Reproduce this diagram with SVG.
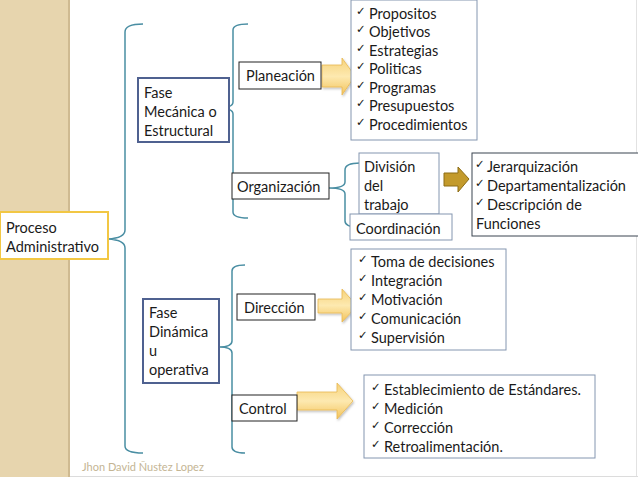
<svg xmlns="http://www.w3.org/2000/svg" width="638" height="479" viewBox="0 0 638 479">
<defs>
<style>
.t{font-family:Lato,"Open Sans","DejaVu Sans",sans-serif;font-size:14.5px;fill:#1a1a1a}
.ck{font-family:"DejaVu Sans",sans-serif;font-size:11.5px;fill:#1a1a1a}
.brace{fill:none;stroke:#4a8ea3;stroke-width:1.5}
.fase{fill:#fff;stroke:#4f6190;stroke-width:2}
.lbl{fill:#fff;stroke:#222;stroke-width:1}
.list{fill:#fff;stroke:#8496b0;stroke-width:1}
.arr{fill:url(#ag);stroke:#e8b850;stroke-width:0.8;filter:url(#sh)}
</style>
<linearGradient id="ag" x1="0" y1="0" x2="0" y2="1">
<stop offset="0" stop-color="#f6d27a"/>
<stop offset="0.5" stop-color="#fde9b0"/>
<stop offset="1" stop-color="#f3c35a"/>
</linearGradient>
<filter id="sh" x="-20%" y="-20%" width="150%" height="160%">
<feDropShadow dx="1" dy="1.5" stdDeviation="1.2" flood-color="#000" flood-opacity="0.25"/>
</filter>
</defs>
<rect width="638" height="479" fill="#fff"/>
<rect x="0" y="0" width="70" height="477" fill="#e7d5ae"/>
<line x1="69" y1="0" x2="69" y2="477" stroke="#cfba91" stroke-width="2"/>
<line x1="636.5" y1="0" x2="636.5" y2="476" stroke="#e2e2e2" stroke-width="1"/>
<line x1="70" y1="476.5" x2="638" y2="476.5" stroke="#dcdcdc" stroke-width="1"/>

<g id="connectors">
<path class="brace" d="M143,24 Q125,24 125,32 L125,230 Q125,238 108,239 Q125,240 125,248 L125,446 Q125,453 143,453"/>
<path class="brace" d="M248,24 Q233,24 233,30 L233,102 Q233,108 218,108 Q233,108 233,114 L233,212 Q233,218 248,218"/>
<path class="brace" d="M245,265 Q232,265 232,271 L232,341 Q232,347 219,347 Q232,347 232,353 L232,447 Q232,453 245,453"/>
<path class="brace" d="M360,163 Q345,163 345,170 L345,182 Q345,188 329,188 Q345,188 345,194 L345,221 Q345,227 358,227"/>
<polygon class="arr" points="322,65 342,65 342,58 355,76 342,95 342,87 322,87"/>
<polygon class="arr" points="318,299 342,299 342,289 357,306 342,322 342,313 318,313"/>
<polygon class="arr" points="297,392 337,392 337,383 353,401 337,419 337,410 297,410"/>
<polygon points="444,173 458,173 458,167 469,179 458,192 458,186 444,186" fill="#c39a2b" stroke="#8d6d14" stroke-width="1"/>
</g>

<g id="proceso">
<rect x="0" y="212" width="108" height="47" fill="#fff" stroke="#f2c744" stroke-width="2"/>
<text class="t" x="6" y="233">Proceso</text>
<text class="t" x="6" y="252">Administrativo</text>
</g>

<g id="fase-mecanica">
<rect class="fase" x="138" y="78" width="91" height="64"/>
<text class="t" x="144" y="98">Fase</text>
<text class="t" x="144" y="117">Mecánica o</text>
<text class="t" x="144" y="136">Estructural</text>
</g>

<g id="fase-dinamica">
<rect class="fase" x="143" y="299" width="76" height="84"/>
<text class="t" x="149" y="318">Fase</text>
<text class="t" x="149" y="337">Dinámica</text>
<text class="t" x="149" y="356">u</text>
<text class="t" x="149" y="375">operativa</text>
</g>

<g id="planeacion">
<rect class="lbl" x="239" y="62" width="82" height="27"/>
<text class="t" x="246" y="81">Planeación</text>
</g>

<g id="organizacion">
<rect class="lbl" x="232" y="173" width="97" height="26"/>
<text class="t" x="237" y="192">Organización</text>
</g>

<g id="direccion">
<rect class="lbl" x="237" y="294" width="78" height="26"/>
<text class="t" x="244" y="313">Dirección</text>
</g>

<g id="control">
<rect class="lbl" x="232" y="395" width="65" height="26"/>
<text class="t" x="239" y="414">Control</text>
</g>

<g id="planeacion-list">
<rect class="list" x="351" y="0" width="126" height="140"/>
<text class="ck" x="356" y="15">✓</text><text class="t" x="369" y="19">Propositos</text>
<text class="ck" x="356" y="33">✓</text><text class="t" x="369" y="37">Objetivos</text>
<text class="ck" x="356" y="52">✓</text><text class="t" x="369" y="56">Estrategias</text>
<text class="ck" x="356" y="70">✓</text><text class="t" x="369" y="74">Politicas</text>
<text class="ck" x="356" y="89">✓</text><text class="t" x="369" y="93">Programas</text>
<text class="ck" x="356" y="107">✓</text><text class="t" x="369" y="111">Presupuestos</text>
<text class="ck" x="356" y="126">✓</text><text class="t" x="369" y="130">Procedimientos</text>
</g>

<g id="division">
<rect class="list" x="359" y="153" width="80" height="61"/>
<text class="t" x="364" y="172">División</text>
<text class="t" x="364" y="191">del</text>
<text class="t" x="364" y="210">trabajo</text>
</g>

<g id="coordinacion">
<rect class="list" x="350" y="214" width="102" height="26"/>
<text class="t" x="356" y="234">Coordinación</text>
</g>

<g id="organizacion-list">
<rect x="472" y="153" width="170" height="83" fill="#fff" stroke="#3b4550" stroke-width="1"/>
<text class="ck" x="475" y="168">✓</text><text class="t" x="487" y="172">Jerarquización</text>
<text class="ck" x="475" y="187">✓</text><text class="t" x="487" y="191">Departamentalización</text>
<text class="ck" x="475" y="206">✓</text><text class="t" x="487" y="210">Descripción de</text>
<text class="t" x="476" y="229">Funciones</text>
</g>

<g id="direccion-list">
<rect class="list" x="351" y="249" width="155" height="101"/>
<text class="ck" x="358" y="263">✓</text><text class="t" x="371" y="267">Toma de decisiones</text>
<text class="ck" x="358" y="282">✓</text><text class="t" x="371" y="286">Integración</text>
<text class="ck" x="358" y="301">✓</text><text class="t" x="371" y="305">Motivación</text>
<text class="ck" x="358" y="320">✓</text><text class="t" x="371" y="324">Comunicación</text>
<text class="ck" x="358" y="339">✓</text><text class="t" x="371" y="343">Supervisión</text>
</g>

<g id="control-list">
<rect class="list" x="364" y="375" width="231" height="83"/>
<text class="ck" x="371" y="391">✓</text><text class="t" x="384" y="395">Establecimiento de Estándares.</text>
<text class="ck" x="371" y="410">✓</text><text class="t" x="384" y="414">Medición</text>
<text class="ck" x="371" y="429">✓</text><text class="t" x="384" y="433">Corrección</text>
<text class="ck" x="371" y="448">✓</text><text class="t" x="384" y="452">Retroalimentación.</text>
</g>

<text x="82" y="471" font-family="Lato,'Open Sans',sans-serif" font-size="11" fill="#c4b594">Jhon David Ñustez Lopez</text>
</svg>
